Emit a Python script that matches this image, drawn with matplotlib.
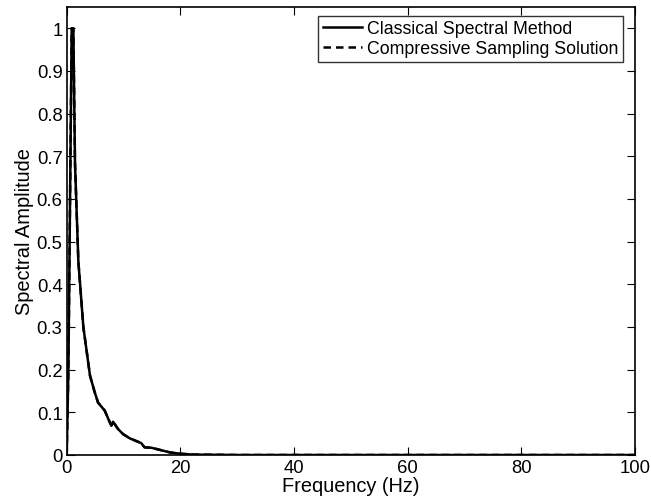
import matplotlib
matplotlib.use("Agg")
import matplotlib.pyplot as plt

plt.rcParams['font.family'] = ['Liberation Sans', 'DejaVu Sans']

freq = [0, 0.3, 0.88, 1.17, 1.46, 2.05, 2.93, 4.1, 4.93, 5.51, 6.69, 7.57, 7.86, 8.15, 9.03, 9.91, 11.1, 12.55, 13.1, 13.7, 14.9, 15.8, 17.0, 18.2, 19.95, 22.2, 30, 50, 70, 100]
csm_amp = [0, 0.2, 1.0, 1.0, 0.684, 0.454, 0.30, 0.186, 0.147, 0.123, 0.104, 0.077, 0.069, 0.078, 0.061, 0.049, 0.039, 0.031, 0.028, 0.018, 0.017, 0.014, 0.010, 0.006, 0.003, 0.001, 0, 0, 0, 0]
cs_amp = [0, 0.2, 1.0, 1.0, 0.684, 0.454, 0.30, 0.186, 0.147, 0.123, 0.104, 0.077, 0.069, 0.078, 0.061, 0.049, 0.039, 0.031, 0.028, 0.018, 0.017, 0.014, 0.010, 0.006, 0.003, 0.001, 0, 0, 0, 0]

xticks = [0, 20, 40, 60, 80, 100]
yticks = [0, 0.1, 0.2, 0.3, 0.4, 0.5, 0.6, 0.7, 0.8, 0.9, 1]
yticklabels = ['0', '0.1', '0.2', '0.3', '0.4', '0.5', '0.6', '0.7', '0.8', '0.9', '1']

fig = plt.figure(figsize=(6.51, 5.02), dpi=100)
ax = fig.add_axes([66.7/651, 1 - 456/502, 568.3/651, 448/502])
ax.plot(freq, csm_amp, color='black', linewidth=1.8, linestyle='-', label='Classical Spectral Method')
ax.plot(freq, cs_amp, color='black', linewidth=1.8, linestyle=(0, (3, 2)), label='Compressive Sampling Solution')
ax.set_xlim(0, 100)
ax.set_ylim(0, 1.05)
ax.set_xticks(xticks)
ax.set_xticklabels([str(t) for t in xticks])
ax.set_yticks(yticks)
ax.set_yticklabels(yticklabels)
ax.tick_params(direction='in', top=True, right=True, length=6, width=0.8, labelsize=13.3, pad=3)
for s in ax.spines.values():
    s.set_linewidth(1.2)
ax.set_xlabel('Frequency (Hz)', fontsize=14.4, labelpad=0)
ax.set_ylabel('Spectral Amplitude', fontsize=14.4, labelpad=2)
leg = ax.legend(loc='upper right', bbox_to_anchor=(0.979, 0.98), fontsize=12.8, frameon=True,
                fancybox=False, borderpad=0.25, handlelength=2.2, handletextpad=0.3,
                labelspacing=0.15, borderaxespad=0.0)
leg.get_frame().set_edgecolor('black')
leg.get_frame().set_linewidth(1.0)
fig.savefig('out.png', dpi=100)
